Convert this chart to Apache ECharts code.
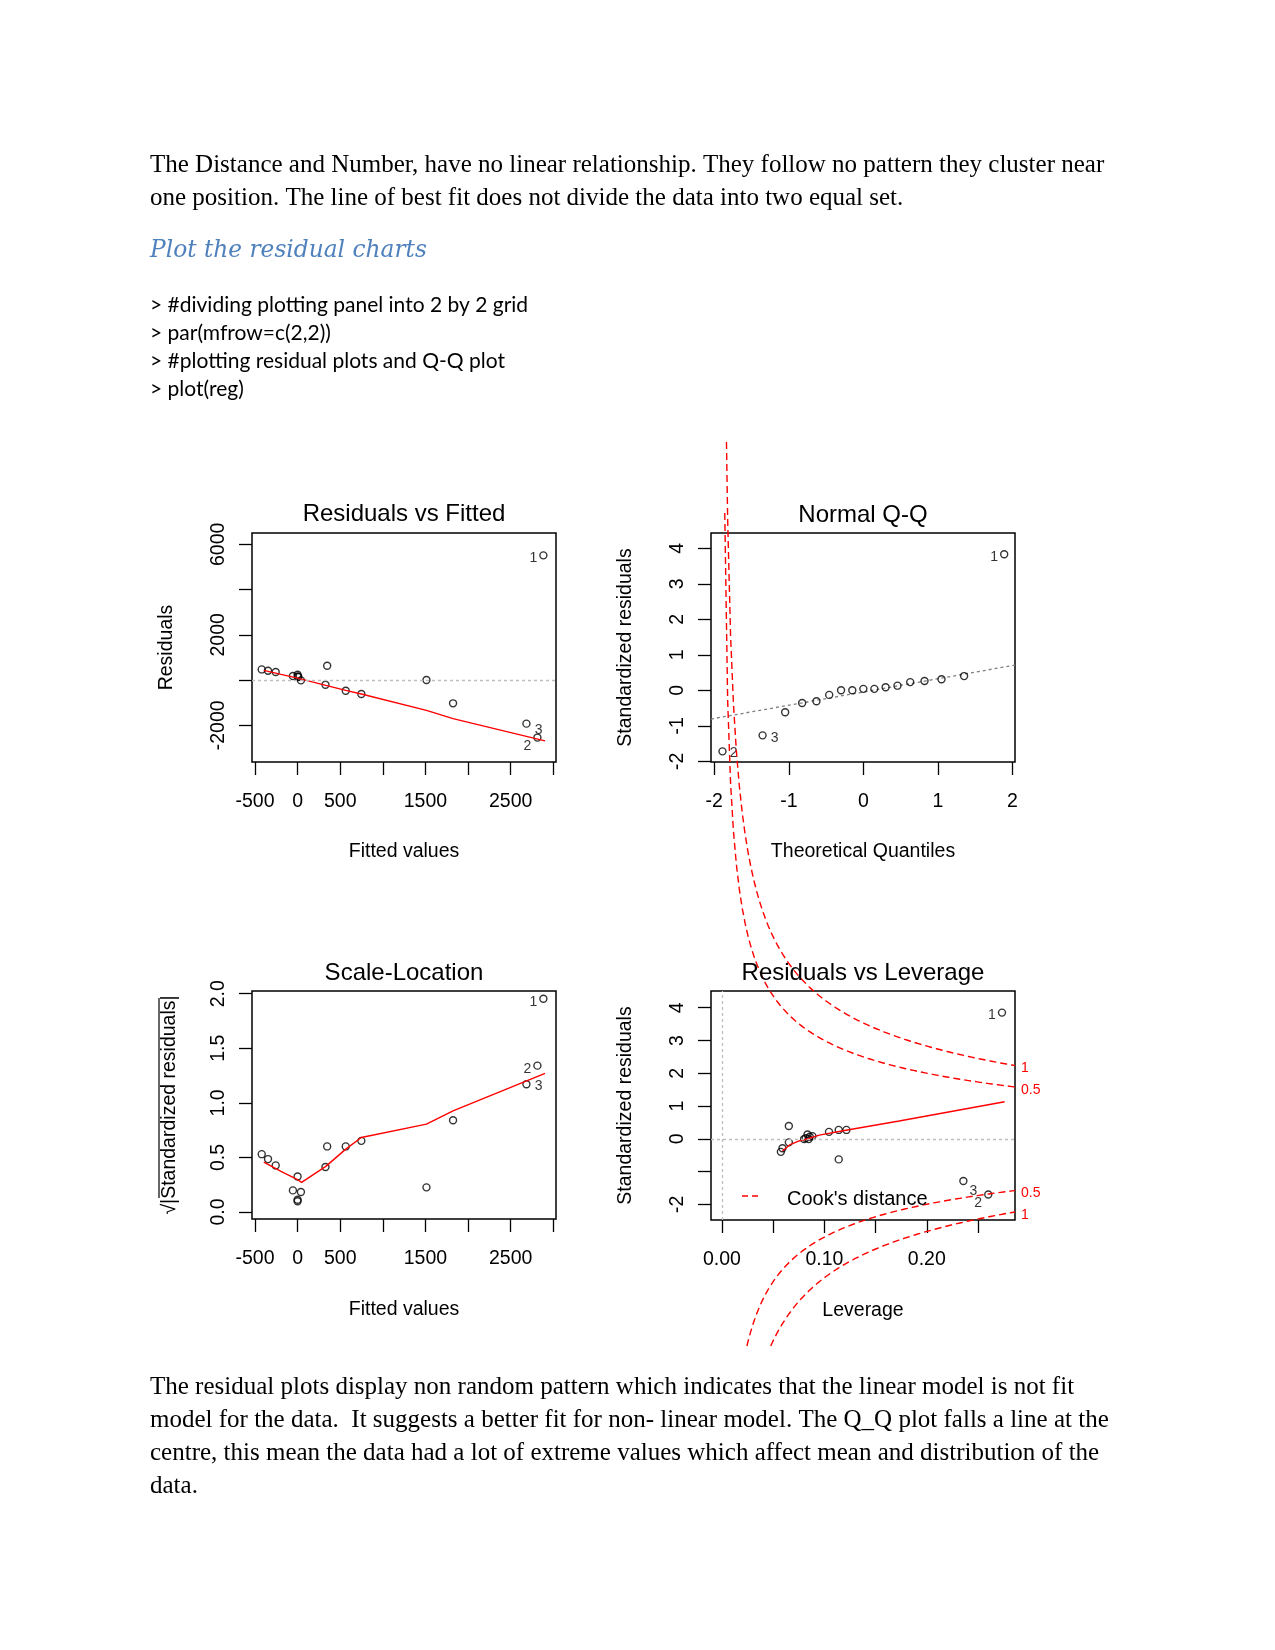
<!DOCTYPE html>
<html><head><meta charset="utf-8">
<script src="https://cdn.jsdelivr.net/npm/echarts@6/dist/echarts.min.js"></script>
<style>html,body{margin:0;padding:0;background:#fff}#c{width:1275px;height:1650px}</style>
</head><body><div id="c"></div>
<script>
// ---------------- DATA ----------------
const docLines1 = ["The Distance and Number, have no linear relationship. They follow no pattern they cluster near",
  "one position. The line of best fit does not divide the data into two equal set."];
const headingText = "Plot the residual charts";
const codeLines = ["> #dividing plotting panel into 2 by 2 grid", "> par(mfrow=c(2,2))",
  "> #plotting residual plots and Q-Q plot", "> plot(reg)"];
const docLines2 = ["The residual plots display non random pattern which indicates that the linear model is not fit",
  "model for the data.  It suggests a better fit for non- linear model. The Q_Q plot falls a line at the",
  "centre, this mean the data had a lot of extreme values which affect mean and distribution of the",
  "data."];
const panelTitles = ["Residuals vs Fitted", "Normal Q-Q", "Scale-Location", "Residuals vs Leverage"];
const xAxisTitles = ["Fitted values", "Theoretical Quantiles", "Fitted values", "Leverage"];
const yAxisTitles = ["Residuals", "Standardized residuals", "\u221A|Standardized residuals|", "Standardized residuals"];
const legendText = "Cook's distance";

// Panel 1: Residuals vs Fitted
const p1Fitted = [-421, -347, -257, -55, 0, 4, 8, 39, 327, 347, 565, 748, 1512, 1824, 2685, 2814, 2884];
const p1Resid  = [470, 412, 353, 176, 235, 160, 132, -15, -206, 632, -470, -617, 0, -1029, -1926, -2543, 5512];
const p1Ids    = ["", "", "", "", "", "", "", "", "", "", "", "", "", "", "3", "2", "1"];
const p1SmoothX = [-397, -195, 0, 331, 565, 748, 1512, 1824, 2903];
const p1SmoothY = [426, 250, 88, -235, -456, -617, -1338, -1705, -2690];
const p1XRange = [-535, 3032], p1YRange = [-3622, 6500];
const p1XTicks = [-500, 0, 500, 1000, 1500, 2000, 2500, 3000], p1XLabels = [-500, 0, 500, 1500, 2500];
const p1YTicks = [-2000, 0, 2000, 4000, 6000], p1YLabels = [-2000, 2000, 6000];

// Panel 2: Normal Q-Q
const p2Theo = [-1.890, -1.352, -1.049, -0.821, -0.629, -0.458, -0.299, -0.148, 0, 0.148, 0.299, 0.458, 0.629, 0.821, 1.049, 1.352, 1.890];
const p2Std  = [-1.72, -1.27, -0.62, -0.36, -0.31, -0.13, 0.0, 0.0, 0.04, 0.04, 0.085, 0.13, 0.23, 0.26, 0.31, 0.40, 3.83];
const p2Ids  = ["2", "3", "", "", "", "", "", "", "", "", "", "", "", "", "", "", "1"];
const p2LineX = [-2.044, 2.035], p2LineY = [-0.81, 0.71];
const p2XRange = [-2.044, 2.035], p2YRange = [-2.02, 4.43];
const p2XTicks = [-2, -1, 0, 1, 2], p2XLabels = [-2, -1, 0, 1, 2];
const p2YTicks = [-2, -1, 0, 1, 2, 3, 4], p2YLabels = [-2, -1, 0, 1, 2, 3, 4];

// Panel 3: Scale-Location
const p3Fitted = [-421, -347, -257, -55, 0, 0, 0, 39, 327, 347, 565, 748, 1512, 1824, 2685, 2814, 2884];
const p3Sqrt   = [0.530, 0.485, 0.427, 0.198, 0.326, 0.113, 0.098, 0.183, 0.412, 0.601, 0.601, 0.652, 0.226, 0.841, 1.171, 1.341, 1.954];
const p3Ids    = ["", "", "", "", "", "", "", "", "", "", "", "", "", "", "3", "2", "1"];
const p3SmoothX = [-397, -195, 0, 47, 331, 565, 748, 1512, 1824, 2903];
const p3SmoothY = [0.457, 0.372, 0.296, 0.271, 0.418, 0.576, 0.683, 0.805, 0.927, 1.271];
const p3XRange = [-535, 3032], p3YRange = [-0.064, 2.025];
const p3XTicks = p1XTicks, p3XLabels = p1XLabels;
const p3YTicks = [0, 0.5, 1, 1.5, 2], p3YLabels = [0, 0.5, 1, 1.5, 2];

// Panel 4: Residuals vs Leverage
const p4Lev = [0.0575, 0.0591, 0.0653, 0.0653, 0.0802, 0.0818, 0.0835, 0.0847, 0.0857, 0.0883, 0.1045, 0.114, 0.1215, 0.114, 0.2357, 0.26, 0.2734];
const p4Std = [-0.40, -0.29, -0.11, 0.39, -0.01, 0.02, 0.13, -0.01, 0.06, 0.08, 0.21, 0.27, 0.27, -0.63, -1.29, -1.70, 3.85];
const p4Ids = ["", "", "", "", "", "", "", "", "", "", "", "", "", "", "3", "2", "1"];
const p4SmoothX = [0.059, 0.066, 0.076, 0.084, 0.095, 0.121, 0.173, 0.276];
const p4SmoothY = [-0.376, -0.19, -0.06, 0.0, 0.11, 0.26, 0.54, 1.13];
const p4XRange = [-0.0107, 0.2861], p4YRange = [-2.48, 4.51];
const p4XTicks = [0, 0.05, 0.1, 0.15, 0.2, 0.25], p4XLabels = [0, 0.1, 0.2];
const p4YTicks = [-2, -1, 0, 1, 2, 3, 4], p4YLabels = [-2, 0, 1, 2, 3, 4];
const cookLevels = [0.5, 1];
const nParams = 2;

// ---------------- LAYOUT / STYLE ----------------
const SANS = '"Liberation Sans", Arial, sans-serif';
const SERIF = '"Liberation Serif", "Times New Roman", serif';
const RED = '#FF0000';
const AX = 19.5;
const gridBoxes = [
  {left: 252, top: 533, width: 304, height: 229},
  {left: 711, top: 533, width: 304, height: 229},
  {left: 252, top: 991, width: 304, height: 228},
  {left: 711, top: 991, width: 304, height: 229}
];
const titleY = [514, 515, 973, 973];
const imageTop = 442, imageBottom = 1346;

// label placement for identified points: [position, distance, dy]
const labelPlace = {
  0: {"1": ['left', 2, 3], "2": ['left', 2, 9], "3": ['right', 4, 7]},
  1: {"1": ['left', 2, 3], "2": ['right', 3, 2], "3": ['right', 4, 3]},
  2: {"1": ['left', 2, 3], "2": ['left', 2, 3], "3": ['right', 4, 2]},
  3: {"1": ['left', 2, 3], "2": ['left', 2, 9], "3": ['right', 2, 10]}
};

function axis(dim, gi, range, ticks, labels, fmt, name, nameGap) {
  return {
    type: 'value', gridIndex: gi, min: range[0], max: range[1],
    axisLine: {show: false, onZero: false}, splitLine: {show: false},
    axisTick: {show: true, length: 13, customValues: ticks, lineStyle: {color: '#000', width: 1.3}},
    axisLabel: {customValues: labels, formatter: fmt, fontSize: AX, fontFamily: SANS, color: '#000',
      margin: dim === 'x' ? 30 : 23, rotate: dim === 'y' ? 90 : 0, hideOverlap: false},
    name: name, nameLocation: 'middle', nameGap: nameGap,
    nameTextStyle: {fontSize: AX, fontFamily: SANS, color: '#000'}
  };
}

function points(xs, ys, ids, gi) {
  return xs.map((x, i) => {
    const d = {value: [x, ys[i]]};
    const id = ids[i];
    if (id) {
      const p = labelPlace[gi][id];
      d.label = {show: true, formatter: id, position: p[0], distance: p[1], offset: [0, p[2]],
        fontSize: 14, fontFamily: SANS, color: '#000'};
    }
    return d;
  });
}

function scatter(gi, xs, ys, ids, extra) {
  return Object.assign({
    type: 'scatter', xAxisIndex: gi, yAxisIndex: gi, symbol: 'circle', symbolSize: 7,
    itemStyle: {color: 'rgba(0,0,0,0)', borderColor: '#000', borderWidth: 1.4},
    emphasis: {disabled: true}, silent: true, z: 3,
    data: points(xs, ys, ids, gi)
  }, extra || {});
}

function lineSeries(gi, xs, ys, style, extra) {
  return Object.assign({
    type: 'line', xAxisIndex: gi, yAxisIndex: gi, showSymbol: false, symbol: 'none', silent: true,
    lineStyle: style, z: 4, animation: false,
    data: xs.map((x, i) => [x, ys[i]])
  }, extra || {});
}

const dotted = (c) => ({silent: true, symbol: 'none', label: {show: false}, animation: false,
  lineStyle: {color: c, type: [3, 3], width: 1.3}});

const fmtInt = v => String(Math.round(v));
const fmt1 = v => v.toFixed(1);
const fmt2 = v => v.toFixed(2);

const xAxes = [
  axis('x', 0, p1XRange, p1XTicks, p1XLabels, fmtInt, xAxisTitles[0], 80),
  axis('x', 1, p2XRange, p2XTicks, p2XLabels, fmtInt, xAxisTitles[1], 80),
  axis('x', 2, p3XRange, p3XTicks, p3XLabels, fmtInt, xAxisTitles[2], 81),
  axis('x', 3, p4XRange, p4XTicks, p4XLabels, fmt2, xAxisTitles[3], 81)
];
const yAxes = [
  axis('y', 0, p1YRange, p1YTicks, p1YLabels, fmtInt, yAxisTitles[0], 75),
  axis('y', 1, p2YRange, p2YTicks, p2YLabels, fmtInt, yAxisTitles[1], 75),
  axis('y', 2, p3YRange, p3YTicks, p3YLabels, fmt1, yAxisTitles[2], 72),
  axis('y', 3, p4YRange, p4YTicks, p4YLabels, fmtInt, yAxisTitles[3], 75)
];

const graphics = [];
function txt(t, x, y, size, family, color, extra) {
  graphics.push({type: 'text', x: x, y: y, silent: true, z: 10,
    style: Object.assign({text: t, fontSize: size, fontFamily: family, fill: color,
      align: 'left', verticalAlign: 'middle'}, extra || {})});
}
docLines1.forEach((t, i) => txt(t, 150, [165, 198][i], 25, SERIF, '#000'));
txt(headingText, 150, 251, 23.3, '"DejaVu Serif", serif', '#4F81BD', {fontStyle: 'italic'});
codeLines.forEach((t, i) => txt(t, 150, [305, 333, 361, 389][i], 21, 'Lato, "Open Sans", sans-serif', '#000'));
docLines2.forEach((t, i) => txt(t, 150, [1387, 1420, 1453, 1486][i], 25, SERIF, '#000'));
panelTitles.forEach((t, i) => {
  const g = gridBoxes[i];
  txt(t, g.left + g.width / 2, titleY[i], 24, SANS, '#000', {align: 'center'});
});
// overline of the square-root sign in the Scale-Location y title
graphics.push({type: 'line', silent: true, z: 10,
  shape: {x1: 159, y1: 998, x2: 159, y2: 1198},
  style: {stroke: '#000', lineWidth: 1.2}});
// Cook's distance legend
graphics.push({type: 'line', silent: true, z: 10,
  shape: {x1: 742, y1: 1196, x2: 762, y2: 1196},
  style: {stroke: RED, lineWidth: 1.3, lineDash: [6, 4]}});
txt(legendText, 787, 1199, 20, SANS, '#000');

const series = [
  scatter(0, p1Fitted, p1Resid, p1Ids, {markLine: Object.assign(dotted('#BEBEBE'), {data: [{yAxis: 0}]})}),
  lineSeries(0, p1SmoothX, p1SmoothY, {color: RED, width: 1.4}),
  lineSeries(1, p2LineX, p2LineY, {color: '#7F7F7F', width: 1.3, type: [3, 3]}, {z: 2}),
  scatter(1, p2Theo, p2Std, p2Ids),
  scatter(2, p3Fitted, p3Sqrt, p3Ids),
  lineSeries(2, p3SmoothX, p3SmoothY, {color: RED, width: 1.4}),
  scatter(3, p4Lev, p4Std, p4Ids, {markLine: Object.assign(dotted('#BEBEBE'), {data: [{yAxis: 0}, {xAxis: 0}]})}),
  lineSeries(3, p4SmoothX, p4SmoothY, {color: RED, width: 1.4})
];

// Cook's distance contours (as plot.lm draws them), running past the panel up to the image edges
const g4 = gridBoxes[3];
const pixToY4 = py => p4YRange[1] - (py - g4.top) / g4.height * (p4YRange[1] - p4YRange[0]);
const yTopLim = pixToY4(imageTop);
const yBotLim = -pixToY4(imageBottom);
const hMin = Math.min(Math.min.apply(null, p4Lev), Math.max.apply(null, p4Lev) / 100);
const hMax = p4XRange[1];
function cookCurve(c, sign) {
  const lim = sign > 0 ? yTopLim : yBotLim;
  const out = [];
  for (let i = 0; i <= 100; i++) {
    const h = hMin + (hMax - hMin) * i / 100;
    const y = Math.sqrt(c * nParams * (1 - h) / h);
    if (y > lim) continue;
    if (out.length === 0 && i > 0) {
      const hc = c * nParams / (lim * lim + c * nParams);
      out.push([hc, sign * lim]);
    }
    out.push([h, sign * y]);
  }
  return out;
}
cookLevels.forEach(c => [1, -1].forEach(s => {
  const curve = cookCurve(c, s);
  series.push({
    type: 'custom', xAxisIndex: 3, yAxisIndex: 3, coordinateSystem: 'cartesian2d',
    clip: false, silent: true, z: 4, animation: false,
    data: curve,
    renderItem: function (params, api) {
      if (params.dataIndex !== 0) return null;
      const pts = curve.map(p => api.coord(p));
      const last = pts[pts.length - 1];
      return {type: 'group', children: [
        {type: 'polyline', shape: {points: pts},
          style: {stroke: RED, lineWidth: 1.4, lineDash: [7, 4], fill: null}},
        {type: 'text', x: last[0] + 6, y: last[1] + 3,
          style: {text: String(c), fill: RED, fontSize: 14, fontFamily: SANS,
            align: 'left', verticalAlign: 'middle'}}
      ]};
    }
  });
}));

const chart = echarts.init(document.getElementById('c'), null, {renderer: 'canvas'});
chart.setOption({
  animation: false,
  backgroundColor: '#fff',
  grid: gridBoxes.map(g => Object.assign({show: true, borderColor: '#000', borderWidth: 1.5,
    backgroundColor: 'transparent', containLabel: false, outerBoundsMode: 'none'}, g)),
  xAxis: xAxes, yAxis: yAxes,
  graphic: graphics,
  series: series
});
</script></body></html>
